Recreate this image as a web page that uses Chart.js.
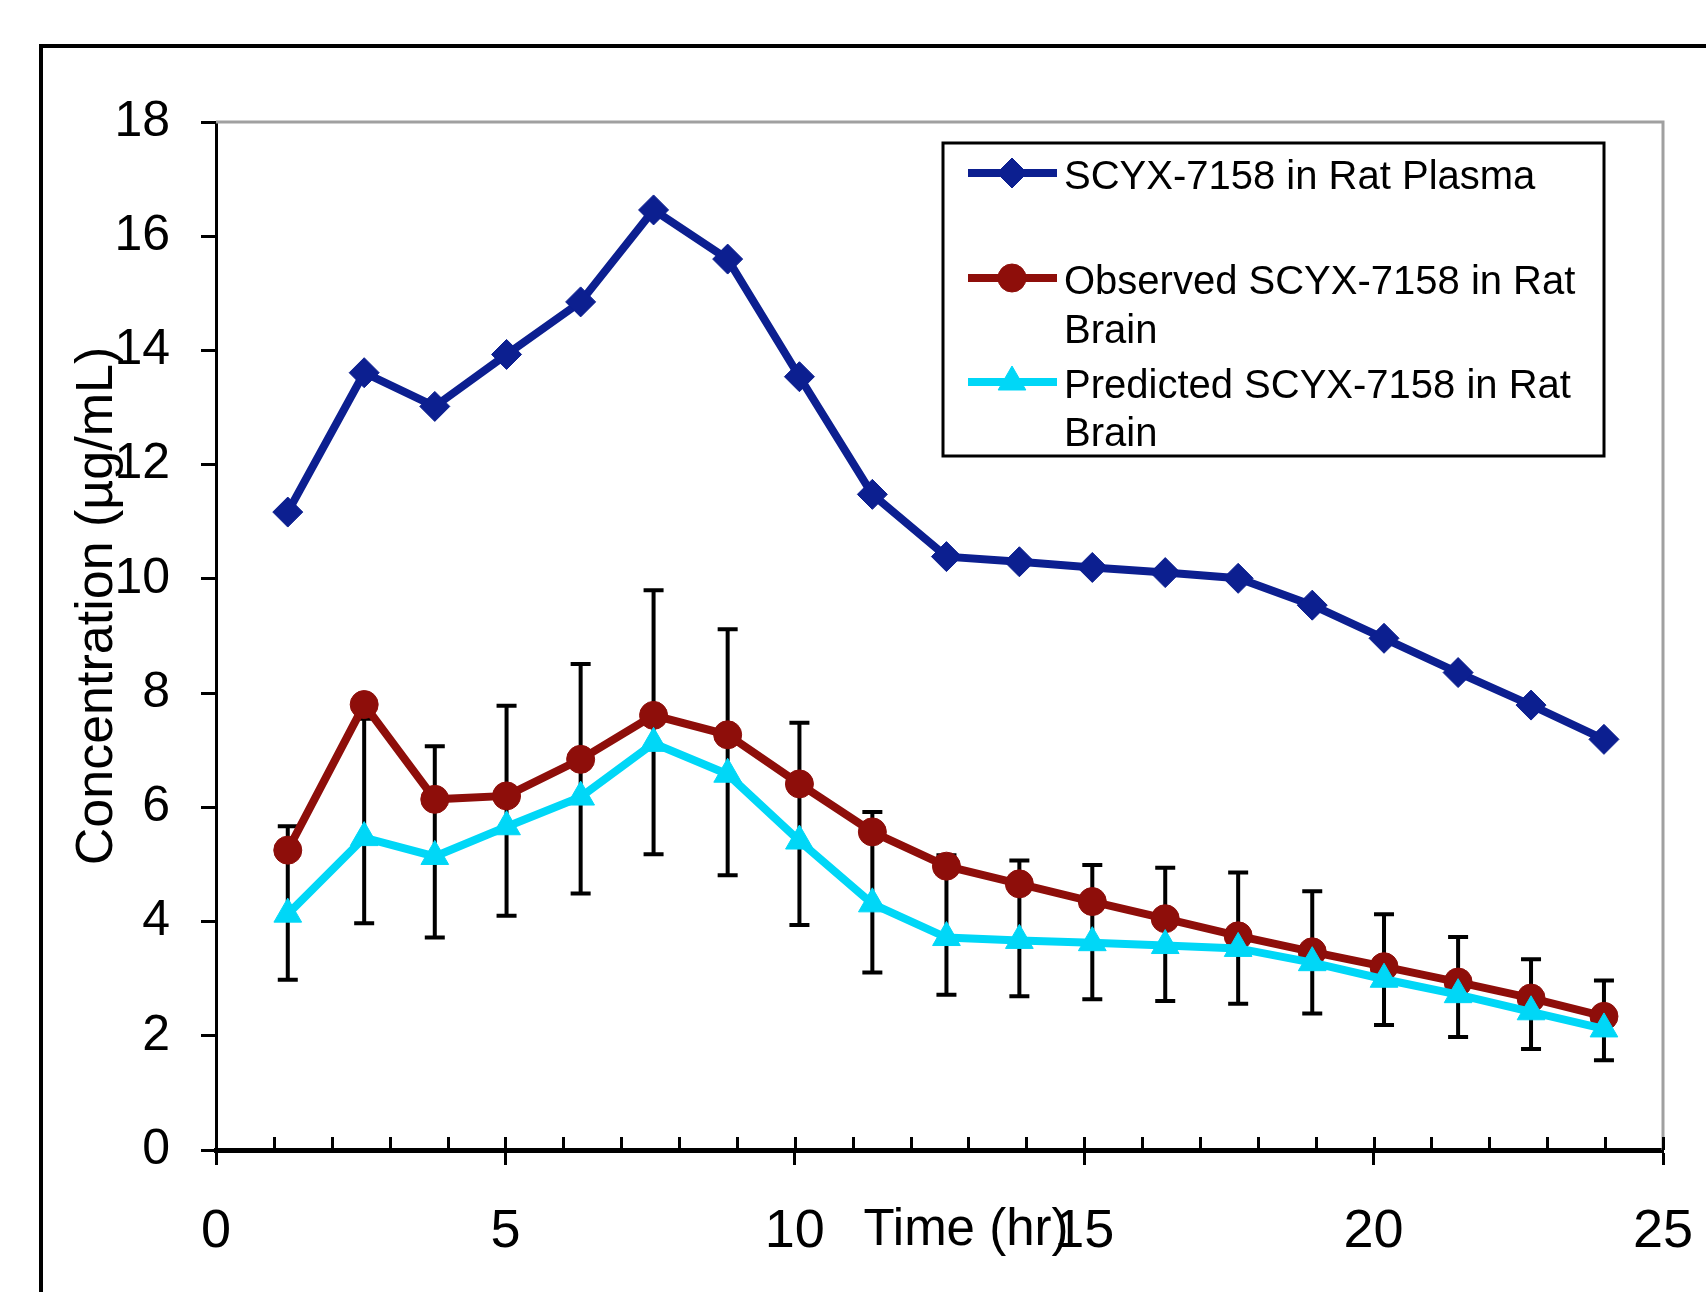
<!DOCTYPE html>
<html>
<head>
<meta charset="utf-8">
<script src="https://cdn.jsdelivr.net/npm/chart.js@4/dist/chart.umd.min.js"></script>
<style>
    html, body { margin: 0; padding: 0; background: #fff; }
    #wrap { width: 1706px; height: 1292px; position: relative; }
</style>
</head>
<body>
<div id="wrap"><canvas id="pkChart"></canvas></div>
<script>
// Sampling times (hr)
const timePoints = [1.24, 2.56, 3.78, 5.02, 6.30, 7.56, 8.84, 10.08, 11.34, 12.62, 13.88, 15.14, 16.40, 17.66, 18.94, 20.18, 21.46, 22.72, 23.98];

// Concentrations (ug/mL)
const plasmaConc = [11.17, 13.61, 13.02, 13.93, 14.85, 16.46, 15.60, 13.54, 11.48, 10.39, 10.30, 10.20, 10.11, 10.01, 9.54, 8.96, 8.36, 7.79, 7.19];
const brainObserved = [5.25, 7.80, 6.14, 6.20, 6.84, 7.61, 7.27, 6.41, 5.57, 4.97, 4.66, 4.35, 4.05, 3.75, 3.47, 3.21, 2.94, 2.66, 2.34];
const brainPredicted = [4.13, 5.47, 5.14, 5.66, 6.18, 7.12, 6.58, 5.41, 4.31, 3.72, 3.67, 3.63, 3.58, 3.53, 3.28, 2.99, 2.72, 2.42, 2.12];

// Error bar ends of the observed brain series
const errUpper = [5.67, 7.55, 7.07, 7.78, 8.51, 9.80, 9.12, 7.48, 5.92, 5.16, 5.07, 4.99, 4.94, 4.86, 4.53, 4.13, 3.73, 3.34, 2.97];
const errLower = [2.98, 3.97, 3.72, 4.10, 4.49, 5.18, 4.81, 3.94, 3.11, 2.72, 2.69, 2.64, 2.61, 2.56, 2.39, 2.19, 1.98, 1.77, 1.57];

// Labels
const seriesNames = [
    ['SCYX-7158 in Rat Plasma'],
    ['Observed SCYX-7158 in Rat', 'Brain'],
    ['Predicted SCYX-7158 in Rat', 'Brain']
];
const xLabelTicks = [0, 5, 10, 15, 20, 25];
const xTitle = 'Time (hr)';
const yTitle = 'Concentration (\u00b5g/mL)';

const FONT = '"Liberation Sans", Arial, sans-serif';

function toPoints(values) {
    return values.map((v, i) => ({ x: timePoints[i], y: v }));
}

function makeDataset(label, values, color, style, radius, order) {
    return {
        label: label.join(' '),
        data: toPoints(values),
        borderColor: color,
        backgroundColor: color,
        borderWidth: 8,
        pointStyle: style,
        pointRadius: radius,
        pointBackgroundColor: color,
        pointBorderColor: color,
        pointBorderWidth: 1,
        tension: 0,
        order: order
    };
}

const datasets = [
    makeDataset(seriesNames[0], plasmaConc, '#0c1f90', 'rectRot', 15, 2),
    makeDataset(seriesNames[1], brainObserved, '#8e0e0a', 'circle', 14, 1),
    makeDataset(seriesNames[2], brainPredicted, '#00d7f7', 'triangle', 16, 0)
];

function drawMarker(ctx, ds, x, y) {
    ctx.save();
    ctx.fillStyle = ds.pointBackgroundColor;
    ctx.strokeStyle = ds.pointBorderColor;
    ctx.lineWidth = ds.pointBorderWidth;
    Chart.helpers.drawPoint(ctx, {
        pointStyle: ds.pointStyle,
        radius: ds.pointRadius,
        rotation: 0,
        borderWidth: ds.pointBorderWidth
    }, x, y);
    ctx.restore();
}

// Error bars go under the markers
function drawErrorBars(chart) {
    const ctx = chart.ctx;
    const xs = chart.scales.x, ys = chart.scales.y;
    ctx.save();
    ctx.strokeStyle = '#000';
    ctx.lineWidth = 4;
    timePoints.forEach((t, i) => {
        const px = xs.getPixelForValue(t);
        const top = ys.getPixelForValue(errUpper[i]);
        const bot = ys.getPixelForValue(errLower[i]);
        ctx.beginPath();
        ctx.moveTo(px, top); ctx.lineTo(px, bot);
        ctx.moveTo(px - 10, top); ctx.lineTo(px + 10, top);
        ctx.moveTo(px - 10, bot); ctx.lineTo(px + 10, bot);
        ctx.stroke();
    });
    ctx.restore();
}

function drawPlotBorder(chart) {
    const ctx = chart.ctx, a = chart.chartArea;
    ctx.save();
    ctx.strokeStyle = '#a0a0a0';
    ctx.lineWidth = 3;
    ctx.beginPath();
    ctx.moveTo(a.left, a.top);
    ctx.lineTo(a.right, a.top);
    ctx.lineTo(a.right, a.bottom);
    ctx.stroke();
    ctx.restore();
}

// Small tick marks above the time axis, every hour
function drawInnerTicks(chart) {
    const ctx = chart.ctx, a = chart.chartArea, xs = chart.scales.x;
    ctx.save();
    ctx.strokeStyle = '#000';
    ctx.lineWidth = 3;
    ctx.beginPath();
    for (let t = 1; t <= 25; t++) {
        const px = Math.round(xs.getPixelForValue(t)) + 0.5;
        ctx.moveTo(px, a.bottom);
        ctx.lineTo(px, a.bottom - 13);
    }
    ctx.stroke();
    ctx.restore();
}

function drawFrame(chart) {
    const ctx = chart.ctx;
    ctx.save();
    ctx.strokeStyle = '#000';
    ctx.lineWidth = 4;
    ctx.beginPath();
    ctx.moveTo(41, chart.height);
    ctx.lineTo(41, 46);
    ctx.lineTo(chart.width, 46);
    ctx.stroke();
    ctx.restore();
}

function drawAxisTitles(chart) {
    const ctx = chart.ctx;
    ctx.save();
    ctx.fillStyle = '#000';
    ctx.font = '51px ' + FONT;
    ctx.textAlign = 'center';
    ctx.textBaseline = 'alphabetic';
    ctx.fillText(xTitle, 966, 1245);

    ctx.translate(112, 606);
    ctx.rotate(-Math.PI / 2);
    ctx.font = '52px ' + FONT;
    ctx.fillText(yTitle, 0, 0);
    ctx.restore();
}

function drawLegend(chart) {
    const ctx = chart.ctx;
    const box = { x: 943, y: 143, w: 661, h: 313 };
    const rows = [
        { line: 173, text: [178] },
        { line: 278, text: [283, 332] },
        { line: 382, text: [387, 435] }
    ];
    ctx.save();
    ctx.fillStyle = '#fff';
    ctx.fillRect(box.x, box.y, box.w, box.h);
    ctx.strokeStyle = '#000';
    ctx.lineWidth = 3;
    ctx.strokeRect(box.x, box.y, box.w, box.h);

    chart.data.datasets.forEach((ds, i) => {
        const r = rows[i];
        ctx.strokeStyle = ds.borderColor;
        ctx.lineWidth = ds.borderWidth;
        ctx.beginPath();
        ctx.moveTo(968, r.line);
        ctx.lineTo(1057, r.line);
        ctx.stroke();
        drawMarker(ctx, ds, 1012, r.line);

        ctx.fillStyle = '#000';
        ctx.font = '40px ' + FONT;
        ctx.textAlign = 'left';
        ctx.textBaseline = 'middle';
        seriesNames[i].forEach((txt, j) => ctx.fillText(txt, 1064, r.text[j]));
    });
    ctx.restore();
}

const decorPlugin = {
    id: 'decor',
    beforeDatasetsDraw(chart) {
        drawPlotBorder(chart);
        drawErrorBars(chart);
    },
    afterDraw(chart) {
        drawInnerTicks(chart);
        drawFrame(chart);
        drawAxisTitles(chart);
        drawLegend(chart);
    }
};

const ctx = document.getElementById('pkChart').getContext('2d');
const chart = new Chart(ctx, {
    type: 'line',
    data: { datasets: datasets },
    options: {
        responsive: true,
        maintainAspectRatio: false,
        animation: false,
        events: [],
        layout: { padding: { top: 122, right: 43, left: 0, bottom: 0 } },
        plugins: {
            legend: { display: false },
            tooltip: { enabled: false }
        },
        scales: {
            x: {
                type: 'linear',
                min: 0,
                max: 25,
                afterFit: s => { s.height = 142; s.paddingLeft = 0; s.paddingRight = 0; },
                border: { display: true, color: '#000', width: 5 },
                grid: {
                    drawOnChartArea: false,
                    drawTicks: true,
                    tickLength: 15,
                    tickWidth: 3,
                    tickColor: c => (xLabelTicks.includes(c.tick.value) ? '#000' : 'rgba(0,0,0,0)')
                },
                ticks: {
                    stepSize: 1,
                    autoSkip: false,
                    maxRotation: 0,
                    padding: 35,
                    color: '#000',
                    font: { family: FONT, size: 54 },
                    callback: v => (xLabelTicks.includes(v) ? String(v) : '')
                }
            },
            y: {
                min: 0,
                max: 18,
                afterFit: s => { s.width = 216; },
                border: { display: true, color: '#000', width: 3 },
                grid: {
                    drawOnChartArea: false,
                    drawTicks: true,
                    tickLength: 15,
                    tickWidth: 3,
                    tickColor: '#000'
                },
                ticks: {
                    stepSize: 2,
                    padding: 31,
                    color: '#000',
                    font: { family: FONT, size: 50 }
                }
            }
        }
    },
    plugins: [decorPlugin]
});
</script>
</body>
</html>
